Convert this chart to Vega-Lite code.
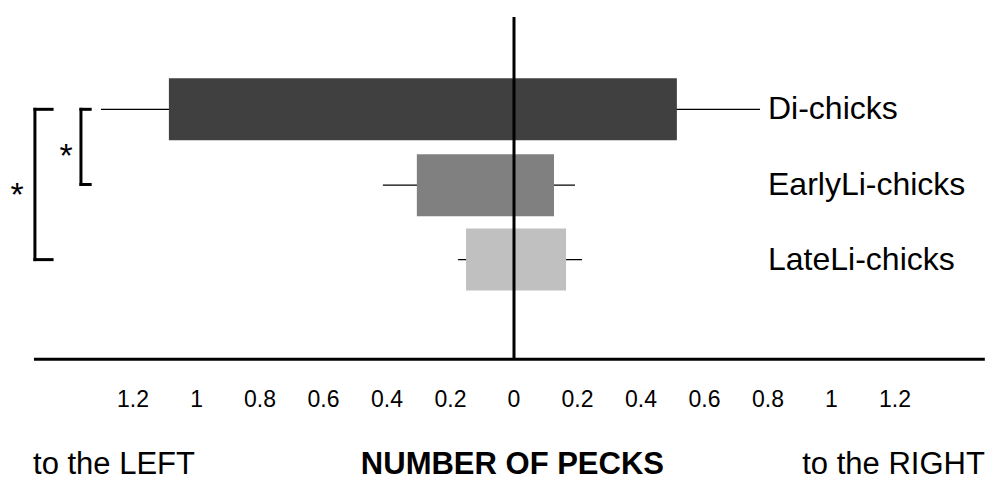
{
  "$schema": "https://vega.github.io/schema/vega-lite/v6.json",
  "width": 988,
  "height": 484,
  "padding": 0,
  "autosize": "none",
  "background": "white",
  "config": {"view": {"stroke": null}, "font": "Liberation Sans"},
  "datasets": {
    "groups": [
      {"group": "Di-chicks", "row": 1, "low": -1.087, "high": 0.513, "errLow": -1.301, "errHigh": 0.775},
      {"group": "EarlyLi-chicks", "row": 2.01, "low": -0.306, "high": 0.126, "errLow": -0.413, "errHigh": 0.192},
      {"group": "LateLi-chicks", "row": 3, "low": -0.151, "high": 0.164, "errLow": -0.176, "errHigh": 0.214}
    ],
    "ticks": [
      {"v": -1.2, "label": "1.2"}, {"v": -1.0, "label": "1"}, {"v": -0.8, "label": "0.8"},
      {"v": -0.6, "label": "0.6"}, {"v": -0.4, "label": "0.4"}, {"v": -0.2, "label": "0.2"},
      {"v": 0, "label": "0"}, {"v": 0.2, "label": "0.2"}, {"v": 0.4, "label": "0.4"},
      {"v": 0.6, "label": "0.6"}, {"v": 0.8, "label": "0.8"}, {"v": 1.0, "label": "1"},
      {"v": 1.2, "label": "1.2"}
    ],
    "brackets": [
      {"xa": -1.509, "xb": -1.509, "ya": 1.0, "yb": 3.0},
      {"xa": -1.509, "xb": -1.455, "ya": 1.0, "yb": 1.0},
      {"xa": -1.509, "xb": -1.455, "ya": 3.0, "yb": 3.0},
      {"xa": -1.364, "xb": -1.364, "ya": 1.0, "yb": 2.0},
      {"xa": -1.364, "xb": -1.335, "ya": 1.0, "yb": 1.0},
      {"xa": -1.364, "xb": -1.335, "ya": 2.0, "yb": 2.0}
    ],
    "stars": [
      {"x": -1.565, "y": 2.02, "label": "*"},
      {"x": -1.411, "y": 1.5, "label": "*"}
    ]
  },
  "layer": [
    {
      "data": {"name": "groups"},
      "mark": {"type": "rule", "color": "black", "strokeWidth": 1.2},
      "encoding": {
        "x": {"field": "errLow", "type": "quantitative", "scale": {"domain": [-1.619, 1.493], "nice": false, "zero": false}, "axis": null},
        "x2": {"field": "errHigh"},
        "y": {"field": "row", "type": "quantitative", "scale": {"domain": [-0.388, 5.919], "nice": false, "zero": false, "reverse": true}, "axis": null}
      }
    },
    {
      "data": {"name": "groups"},
      "mark": {"type": "bar", "size": 62},
      "encoding": {
        "x": {"field": "low", "type": "quantitative"},
        "x2": {"field": "high"},
        "y": {"field": "row", "type": "quantitative"},
        "color": {"field": "group", "type": "nominal", "scale": {"domain": ["Di-chicks", "EarlyLi-chicks", "LateLi-chicks"], "range": ["#404040", "#808080", "#c0c0c0"]}, "legend": null}
      }
    },
    {
      "data": {"name": "groups"},
      "mark": {"type": "text", "align": "left", "baseline": "middle", "fontSize": 32, "color": "black"},
      "encoding": {
        "x": {"datum": 0.8, "type": "quantitative"},
        "y": {"field": "row", "type": "quantitative"},
        "text": {"field": "group"}
      }
    },
    {
      "data": {"values": [{"x": 0, "ya": -0.227, "yb": 4.325}]},
      "mark": {"type": "rule", "color": "black", "strokeWidth": 3},
      "encoding": {
        "x": {"field": "x", "type": "quantitative"},
        "y": {"field": "ya", "type": "quantitative"},
        "y2": {"field": "yb"}
      }
    },
    {
      "data": {"values": [{"xa": -1.512, "xb": 1.483, "y": 4.325}]},
      "mark": {"type": "rule", "color": "black", "strokeWidth": 3},
      "encoding": {
        "x": {"field": "xa", "type": "quantitative"},
        "x2": {"field": "xb"},
        "y": {"field": "y", "type": "quantitative"}
      }
    },
    {
      "data": {"name": "brackets"},
      "mark": {"type": "rule", "color": "black", "strokeWidth": 3, "strokeCap": "square"},
      "encoding": {
        "x": {"field": "xa", "type": "quantitative"},
        "x2": {"field": "xb"},
        "y": {"field": "ya", "type": "quantitative"},
        "y2": {"field": "yb"}
      }
    },
    {
      "data": {"name": "stars"},
      "mark": {"type": "text", "align": "center", "baseline": "alphabetic", "fontSize": 34, "dy": 20, "color": "black"},
      "encoding": {
        "x": {"field": "x", "type": "quantitative"},
        "y": {"field": "y", "type": "quantitative"},
        "text": {"field": "label"}
      }
    },
    {
      "data": {"name": "ticks"},
      "mark": {"type": "text", "align": "center", "baseline": "alphabetic", "fontSize": 23, "color": "black"},
      "encoding": {
        "x": {"field": "v", "type": "quantitative"},
        "y": {"datum": 4.967, "type": "quantitative"},
        "text": {"field": "label"}
      }
    },
    {
      "data": {"values": [{"x": -1.515, "label": "to the LEFT"}]},
      "mark": {"type": "text", "align": "left", "baseline": "alphabetic", "fontSize": 31, "color": "black"},
      "encoding": {
        "x": {"field": "x", "type": "quantitative"},
        "y": {"datum": 5.853, "type": "quantitative"},
        "text": {"field": "label"}
      }
    },
    {
      "data": {"values": [{"x": -0.005, "label": "NUMBER OF PECKS"}]},
      "mark": {"type": "text", "align": "center", "baseline": "alphabetic", "fontSize": 31, "fontWeight": "bold", "color": "black"},
      "encoding": {
        "x": {"field": "x", "type": "quantitative"},
        "y": {"datum": 5.853, "type": "quantitative"},
        "text": {"field": "label"}
      }
    },
    {
      "data": {"values": [{"x": 1.483, "label": "to the RIGHT"}]},
      "mark": {"type": "text", "align": "right", "baseline": "alphabetic", "fontSize": 31, "color": "black"},
      "encoding": {
        "x": {"field": "x", "type": "quantitative"},
        "y": {"datum": 5.853, "type": "quantitative"},
        "text": {"field": "label"}
      }
    }
  ]
}
